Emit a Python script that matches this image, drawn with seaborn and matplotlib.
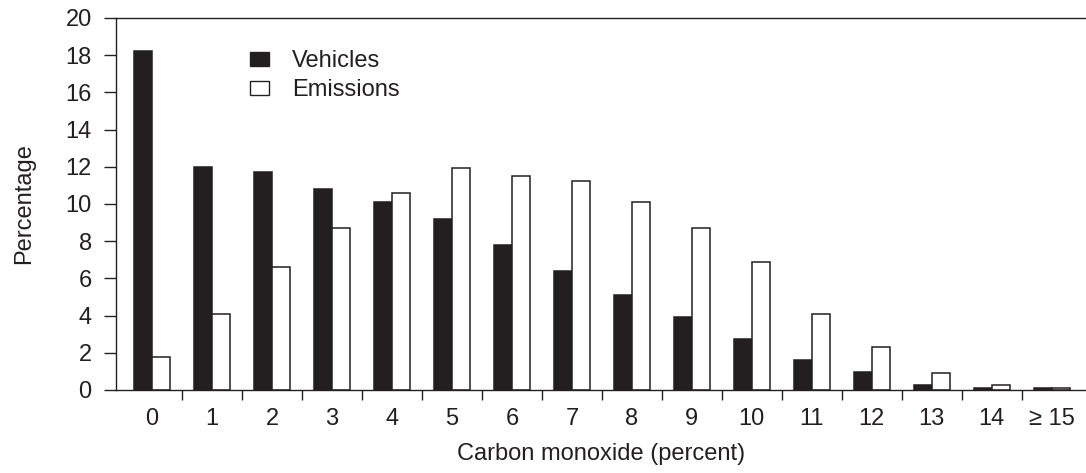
import matplotlib
matplotlib.use("Agg")
import matplotlib.pyplot as plt
import seaborn as sns
import pandas as pd
import numpy as np
from matplotlib.ticker import FixedLocator

categories = ["0", "1", "2", "3", "4", "5", "6", "7", "8", "9", "10", "11", "12", "13", "14", "\u2265 15"]
vehicles = [18.2, 12.0, 11.7, 10.8, 10.1, 9.2, 7.8, 6.4, 5.1, 3.9, 2.75, 1.6, 0.95, 0.25, 0.1, 0.1]
emissions = [1.8, 4.1, 6.6, 8.7, 10.6, 11.95, 11.5, 11.25, 10.1, 8.7, 6.9, 4.1, 2.3, 0.9, 0.25, 0.12]
series_names = ["Vehicles", "Emissions"]
y_ticks = [0, 2, 4, 6, 8, 10, 12, 14, 16, 18, 20]

df = pd.DataFrame({
    "cat": categories * 2,
    "series": [series_names[0]] * len(categories) + [series_names[1]] * len(categories),
    "value": vehicles + emissions,
})

sns.set_theme(style="white")
plt.rcParams["font.family"] = ["Liberation Sans", "DejaVu Sans"]

INK = "#231f20"
FS = 17

fig = plt.figure(figsize=(10.86, 4.73), dpi=100)
ax = fig.add_axes([0.1068, 0.1755, 0.8932, 0.7865])

sns.barplot(data=df, x="cat", y="value", hue="series", order=categories,
            hue_order=series_names, palette=[INK, "white"],
            width=0.6, gap=0, edgecolor=INK, linewidth=1.1,
            saturation=1, ax=ax, legend=True)

ax.set_ylim(0, 20)
ax.set_xlim(-0.6, 15.57)
ax.set_yticks(y_ticks)
ax.set_yticklabels([str(t) for t in y_ticks], fontsize=FS, color=INK)
ax.tick_params(axis="y", direction="out", length=8.5, width=1.0, color=INK, left=True, pad=9)
ax.tick_params(axis="x", which="major", length=0, pad=13, labelsize=FS, labelcolor=INK)
ax.xaxis.set_minor_locator(FixedLocator(np.arange(0.5, 15.0, 1.0)))
ax.tick_params(axis="x", which="minor", bottom=True, direction="out", length=7.5, width=1.0, color=INK)

for s in ["left", "top", "bottom"]:
    ax.spines[s].set_visible(True)
    ax.spines[s].set_color(INK)
    ax.spines[s].set_linewidth(1.0)
ax.spines["right"].set_visible(False)

ax.set_xlabel("Carbon monoxide (percent)", fontsize=FS, color=INK, labelpad=9)
ax.set_ylabel("Percentage", fontsize=FS, color=INK, labelpad=22)
ax.grid(False)

leg = ax.legend(loc="upper left", bbox_to_anchor=(0.116, 0.97), frameon=False,
                fontsize=FS, handlelength=0.8, handleheight=0.5, handletextpad=1.0,
                labelspacing=0.3)
for h in leg.legend_handles:
    h.set_edgecolor(INK)
    h.set_linewidth(1.0)
for t in leg.get_texts():
    t.set_color(INK)

fig.savefig("out.png", dpi=100)
